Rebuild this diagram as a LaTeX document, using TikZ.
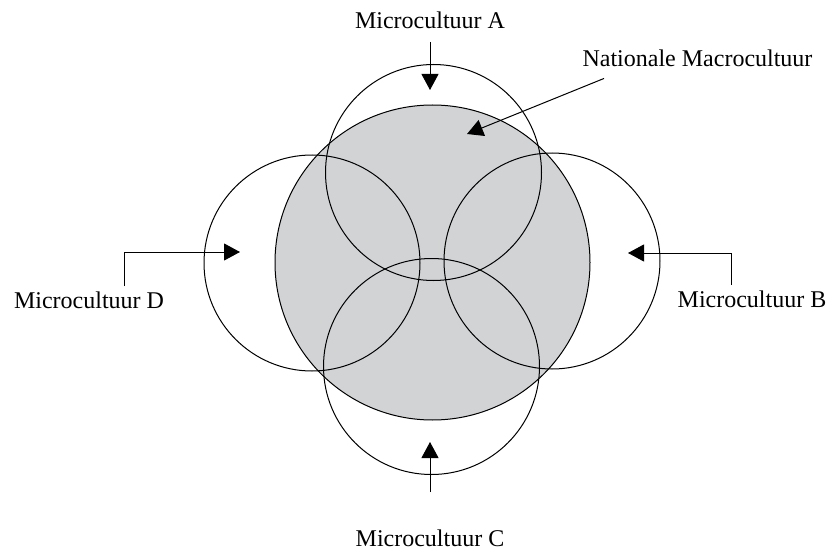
\documentclass[tikz,border=0pt]{standalone}
\usepackage{fontspec}
\setmainfont{Liberation Serif}
\usetikzlibrary{arrows.meta}
\definecolor{macrogray}{RGB}{209,211,213}
\tikzset{
  micro/.style={circle, draw, minimum size=216pt, inner sep=0pt},
  lbl/.style={font=\fontsize{24}{28}\selectfont, inner sep=0pt},
}

\begin{document}
\begin{tikzpicture}[x=1pt, y=-1pt, line width=1pt, >={Triangle[length=16pt,width=17pt]}]
    \useasboundingbox (0,0) rectangle (831,551);
    % national culture and the four microcultures
    \node[circle, draw, fill=macrogray, minimum size=315pt, inner sep=0pt] at (432.5,262.5) (macro) {};
    \node[micro] at (433.5,172.5) (microA) {};
    \node[micro] at (552,261) (microB) {};
    \node[micro] at (431.5,366.5) (microC) {};
    \node[micro] at (312,263) (microD) {};
    % labels
    \node[lbl] at (430,20) (labA) {Microcultuur A};
    \node[lbl] at (752,299) (labB) {Microcultuur B};
    \node[lbl] at (430,538) (labC) {Microcultuur C};
    \node[lbl] at (89,300) (labD) {Microcultuur D};
    \node[lbl] at (697.5,58.5) (labN) {Nationale Macrocultuur};
    % arrow ends
    \coordinate (tipA) at (430,90);
    \coordinate (tipB) at (628,253);
    \coordinate (tipC) at (430,442);
    \coordinate (tipD) at (240,252);
    \coordinate (tipN) at (467,134);
    \draw [->] ([yshift=-13pt]labA.south) -- (tipA);
    \draw [->] ([xshift=-21pt,yshift=5pt]labB.north) |- (tipB);
    \draw [->] ([yshift=37pt]labC.north) -- (tipC);
    \draw [->] ([xshift=35pt,yshift=5pt]labD.north) |- (tipD);
    \draw [->] ([xshift=22pt,yshift=-11pt]labN.south west) -- (tipN);
  \end{tikzpicture}
\end{document}
